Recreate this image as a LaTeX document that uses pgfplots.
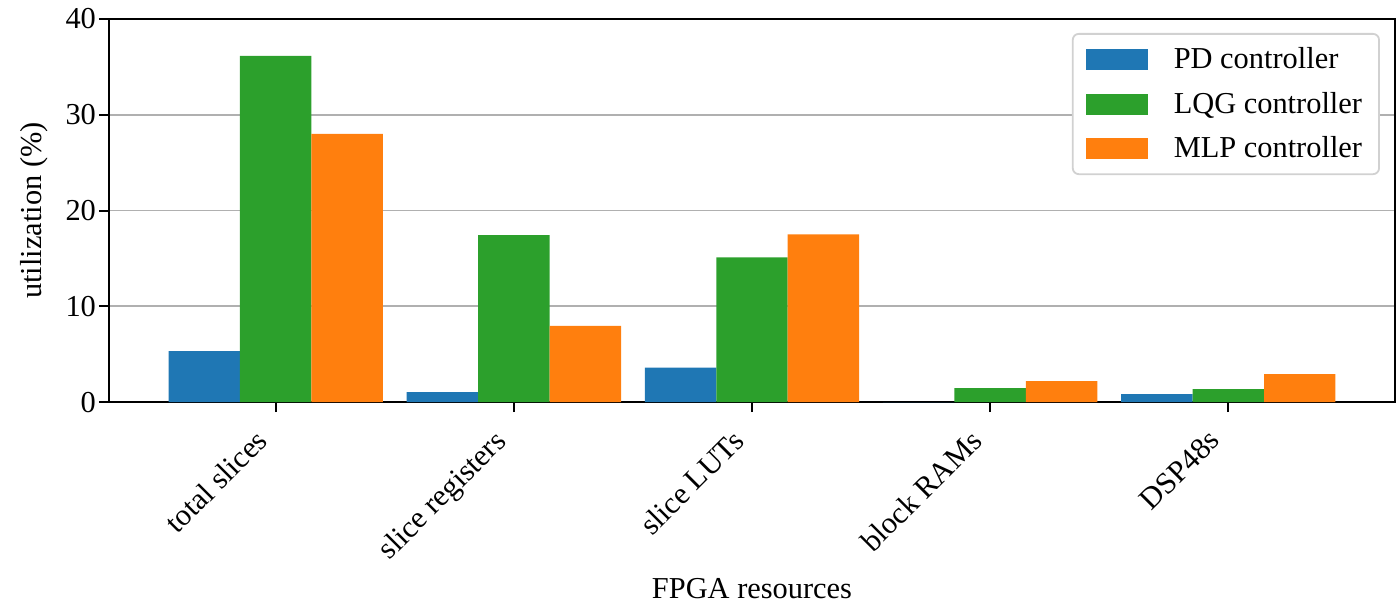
\documentclass[border=0pt]{standalone}
\usepackage{fontspec}
\setmainfont{Liberation Serif}
\usepackage{pgfplots}
\pgfplotsset{compat=1.18}
\definecolor{tabblue}{HTML}{1F77B4}
\definecolor{tabgreen}{HTML}{2CA02C}
\definecolor{taborange}{HTML}{FF7F0E}
\newcommand{\chartfont}{\fontsize{15.2}{18}\selectfont}
\begin{document}
\begin{tikzpicture}[font=\chartfont]
\begin{axis}[
  name=ax,
  scale only axis,
  width=643pt, height=191.6pt,
  xmin=-0.7, xmax=4.7,
  ymin=0, ymax=40,
  ytick={0,10,20,30,40},
  xtick={0,1,2,3,4},
  xticklabels={total slices, slice registers, slice LUTs, block RAMs, DSP48s},
  xticklabel style={rotate=45, anchor=north east, inner sep=2pt, xshift=-11pt, yshift=4.1pt, font=\chartfont},
  yticklabel style={xshift=2pt, font=\chartfont},
  /pgf/number format/assume math mode=true,
  tick align=outside,
  xtick pos=bottom, ytick pos=left,
  major tick length=5pt,
  every tick/.style={black, line width=1pt},
  axis line style={line width=1.2pt},
  ymajorgrids,
  grid style={color=black!31, line width=0.9pt},
  axis on top=false,
  ylabel={utilization (\%)},
  xlabel={FPGA resources},
  ylabel style={yshift=2pt, font=\chartfont},
  xlabel style={font=\chartfont, yshift=0pt},
  ybar, bar width=0.3,
  legend style={at={(0.9883,0.9635)}, anchor=north east, draw=black!18, line width=0.9pt, rounded corners=3pt,
    inner xsep=6.5pt, inner ysep=5pt, row sep=6pt, font=\chartfont,
    nodes={inner sep=2pt, anchor=west, font=\chartfont}},
  legend cell align=left,
  legend image code/.code={\path[#1,draw=none,sharp corners] (0pt,-5.25pt) rectangle (31pt,5.25pt); \path (42pt,0pt);},
]
\addplot[fill=tabblue, draw=none, bar shift=-0.3] coordinates {(0,5.32) (1,1.04) (2,3.61) (3,0) (4,0.83)};
\addplot[fill=tabgreen, draw=none, bar shift=0] coordinates {(0,36.15) (1,17.43) (2,15.13) (3,1.48) (4,1.36)};
\addplot[fill=taborange, draw=none, bar shift=0.3] coordinates {(0,28.0) (1,7.96) (2,17.53) (3,2.2) (4,2.92)};
\legend{PD controller, LQG controller, MLP controller}
\end{axis}
\pgfresetboundingbox
\path ([shift={(-54.5pt,-100.5pt)}]ax.south west) rectangle ([shift={(1pt,9.5pt)}]ax.north east);
\end{tikzpicture}
\end{document}
